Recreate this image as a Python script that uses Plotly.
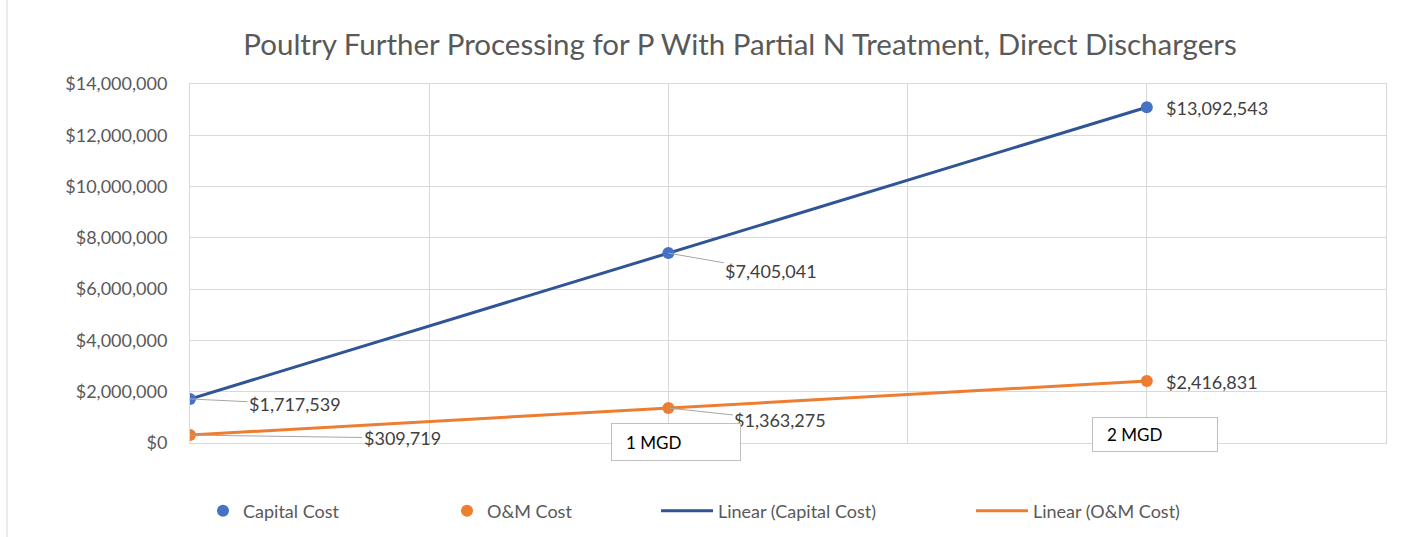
import numpy as np
import plotly.graph_objects as go

# Dados do gráfico
flow_mgd = [0, 1, 2]
capital_cost = [1717539, 7405041, 13092543]
om_cost = [309719, 1363275, 2416831]
box_labels = ["1 MGD", "2 MGD"]
box_positions = [1, 2]

title = "Poultry Further Processing for P With Partial N Treatment, Direct Dischargers"

blue_pt = "#4472C4"
blue_line = "#2F5597"
orange = "#ED7D31"
grid = "#D9D9D9"
font_name = "Lato"

# Linhas de tendência linear
cap_fit = np.polyfit(flow_mgd, capital_cost, 1)
om_fit = np.polyfit(flow_mgd, om_cost, 1)
x_fit = [min(flow_mgd), max(flow_mgd)]

fig = go.Figure()

fig.add_trace(go.Scatter(x=x_fit, y=np.polyval(cap_fit, x_fit), mode="lines", name="Linear (Capital Cost)",
                         line=dict(color=blue_line, width=3), legend="legend3"))
fig.add_trace(go.Scatter(x=x_fit, y=np.polyval(om_fit, x_fit), mode="lines", name="Linear (O&M Cost)",
                         line=dict(color=orange, width=3), legend="legend4"))
fig.add_trace(go.Scatter(x=flow_mgd, y=capital_cost, mode="markers", name="Capital Cost",
                         marker=dict(color=blue_pt, size=12), legend="legend"))
fig.add_trace(go.Scatter(x=flow_mgd, y=om_cost, mode="markers", name="O&M Cost",
                         marker=dict(color=orange, size=12), legend="legend2"))

# Rótulos de dados com linhas de chamada
label_font = dict(family=font_name, size=18, color="#404040")
offsets_cap = [(105, 5), (103, 18), None]
offsets_om = [(212, 3), (112, 12), None]
annotations = []
for series, offsets in [(capital_cost, offsets_cap), (om_cost, offsets_om)]:
    for xv, yv, off in zip(flow_mgd, series, offsets):
        text = "${:,}".format(yv)
        if off is None:
            annotations.append(dict(x=xv, y=yv, xref="x", yref="y", text=text, showarrow=False,
                                    xanchor="left", xshift=17, yshift=-1, font=label_font))
        else:
            annotations.append(dict(x=xv, y=yv, xref="x", yref="y", text=text, showarrow=True,
                                    ax=off[0], ay=off[1], arrowhead=0, arrowwidth=1, arrowcolor="#A6A6A6",
                                    standoff=0, font=label_font))

# Caixas de texto "MGD"
box_shift = [(0.015, 0.004, 126, 34), (0.017, 0.024, 122, 31)]
for lab, xv, (dx, py, bw, bh) in zip(box_labels, box_positions, box_shift):
    annotations.append(dict(x=xv + dx, y=py, xref="x", yref="paper", xanchor="center", yanchor="middle",
                            text="&nbsp;" * 3 + lab, showarrow=False,
                            width=bw, height=bh, align="left", valign="middle",
                            bordercolor="#BFBFBF", borderwidth=1, bgcolor="white", borderpad=1,
                            font=dict(family=font_name, size=17, color="black")))

def leg(px, iw=30):
    return dict(x=(px - iw - 10) / 1403, xref="container", y=1 - 511 / 537, yref="container",
                xanchor="left", yanchor="middle", orientation="h", bgcolor="rgba(0,0,0,0)",
                itemwidth=iw, font=dict(family=font_name, size=18, color="#595959"))

fig.update_layout(
    width=1403, height=537,
    margin=dict(l=190, r=17, t=84, b=94),
    paper_bgcolor="white", plot_bgcolor="white",
    showlegend=True,
    title=dict(text=title, x=740 / 1403, xanchor="center", y=1 - 45 / 537, yanchor="middle",
               font=dict(family=font_name, size=29.5, color="#595959")),
    font=dict(family=font_name, color="#595959"),
    annotations=annotations,
    legend=leg(243), legend2=leg(487), legend3=leg(718, 52), legend4=leg(1033, 52),
    shapes=[dict(type="line", xref="paper", yref="paper", x0=(7 - 190) / 1196, x1=(7 - 190) / 1196,
                 y0=-0.3, y1=1.3, line=dict(color=grid, width=1))],
)
fig.update_xaxes(range=[0, 2.5], dtick=0.5, showgrid=True, gridcolor=grid, showticklabels=False,
                 zeroline=False, showline=True, mirror=True, linecolor=grid)
fig.update_yaxes(range=[0, 14000000], dtick=2000000, tickprefix="$", tickformat=",d", showgrid=True,
                 gridcolor=grid, zeroline=False, showline=True, mirror=True, linecolor=grid,
                 ticklabelstandoff=18, tickfont=dict(family=font_name, size=18, color="#595959"))

fig.write_html("out.html", config={"displayModeBar": False},
               post_script="document.body.style.margin='0';")
